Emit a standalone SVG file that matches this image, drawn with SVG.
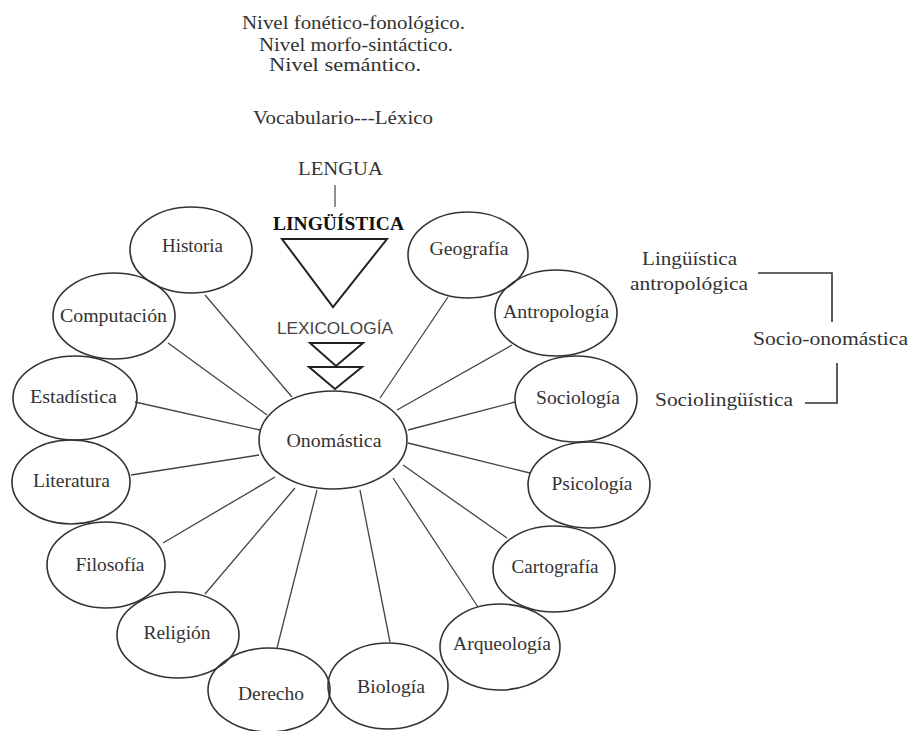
<svg xmlns="http://www.w3.org/2000/svg" width="912" height="731" viewBox="0 0 912 731">
<style>
text{font-family:"Liberation Serif","Times New Roman",serif;font-size:18px;fill:#333;text-anchor:middle}
.node ellipse{fill:none;stroke:#333;stroke-width:1.6}
#connectors line{stroke:#444;stroke-width:1.3}
.br{fill:none;stroke:#333;stroke-width:1.6}
.tri{fill:none;stroke:#222;stroke-width:2}
.sans{font-family:"Liberation Sans",Arial,sans-serif;font-size:16px;fill:#444}
.bold{font-weight:bold;fill:#111;font-size:19px}
</style>
<rect width="912" height="731" fill="#fff"/>
<g id="header">
<text x="353.5" y="29" textLength="223" lengthAdjust="spacingAndGlyphs">Nivel fonético-fonológico.</text>
<text x="356" y="51" textLength="194" lengthAdjust="spacingAndGlyphs">Nivel morfo-sintáctico.</text>
<text x="345" y="71" textLength="152" lengthAdjust="spacingAndGlyphs">Nivel semántico.</text>
<text x="343" y="124" textLength="180" lengthAdjust="spacingAndGlyphs">Vocabulario---Léxico</text>
<text x="340.5" y="175" font-size="16" textLength="85" lengthAdjust="spacingAndGlyphs">LENGUA</text>
<line x1="335" y1="185" x2="335" y2="207" stroke="#555" stroke-width="1.3"/>
<text class="bold" x="338.5" y="230" textLength="131" lengthAdjust="spacingAndGlyphs">LINGÜÍSTICA</text>
<polygon class="tri" points="282,239 387,239 333,307"/>
<text class="sans" x="335" y="334" textLength="116" lengthAdjust="spacingAndGlyphs">LEXICOLOGÍA</text>
<polygon class="tri" points="310,343 363,343 336,366"/>
<polygon class="tri" points="309,367 362,367 335,389"/>
</g>
<g id="side">
<text x="689.5" y="265" textLength="95" lengthAdjust="spacingAndGlyphs">Lingüística</text>
<text x="689" y="290" textLength="118" lengthAdjust="spacingAndGlyphs">antropológica</text>
<polyline class="br" points="758,273 832,273 832,322"/>
<text x="830.5" y="345" textLength="155" lengthAdjust="spacingAndGlyphs">Socio-onomástica</text>
<polyline class="br" points="837,363 837,403 805,403"/>
<text x="724" y="406" textLength="138" lengthAdjust="spacingAndGlyphs">Sociolingüística</text>
</g>
<g id="connectors">
<line x1="205" y1="295" x2="292" y2="397"/>
<line x1="168" y1="343" x2="267" y2="415"/>
<line x1="135" y1="402" x2="260" y2="430"/>
<line x1="131" y1="475" x2="259" y2="455"/>
<line x1="163" y1="543" x2="275" y2="477"/>
<line x1="205" y1="594" x2="295" y2="488"/>
<line x1="277" y1="648" x2="317" y2="490"/>
<line x1="390" y1="642" x2="360" y2="490"/>
<line x1="478" y1="607" x2="393" y2="478"/>
<line x1="507" y1="538" x2="403" y2="465"/>
<line x1="530" y1="473" x2="408" y2="443"/>
<line x1="515" y1="402" x2="408" y2="430"/>
<line x1="512" y1="345" x2="397" y2="410"/>
<line x1="448" y1="297" x2="380" y2="398"/>
</g>
<g id="onomastica" class="node"><ellipse cx="333" cy="440" rx="74" ry="49" stroke-width="2.2"/><text x="334" y="447" textLength="95" lengthAdjust="spacingAndGlyphs">Onomástica</text></g>
<g id="historia" class="node"><ellipse cx="191" cy="250" rx="61" ry="43"/><text x="192.5" y="252" textLength="61" lengthAdjust="spacingAndGlyphs">Historia</text></g>
<g id="computacion" class="node"><ellipse cx="114" cy="316" rx="61" ry="43"/><text x="113.5" y="322" textLength="107" lengthAdjust="spacingAndGlyphs">Computación</text></g>
<g id="estadistica" class="node"><ellipse cx="75" cy="398" rx="62" ry="42"/><text x="73.5" y="403" textLength="87" lengthAdjust="spacingAndGlyphs">Estadística</text></g>
<g id="literatura" class="node"><ellipse cx="71" cy="482" rx="59" ry="42"/><text x="71.5" y="487" textLength="77" lengthAdjust="spacingAndGlyphs">Literatura</text></g>
<g id="filosofia" class="node"><ellipse cx="106" cy="565" rx="59" ry="43"/><text x="110" y="571" textLength="69" lengthAdjust="spacingAndGlyphs">Filosofía</text></g>
<g id="religion" class="node"><ellipse cx="178" cy="635" rx="61" ry="43"/><text x="177" y="639" textLength="67" lengthAdjust="spacingAndGlyphs">Religión</text></g>
<g id="derecho" class="node"><ellipse cx="269" cy="690" rx="61" ry="42"/><text x="271" y="700" textLength="66" lengthAdjust="spacingAndGlyphs">Derecho</text></g>
<g id="biologia" class="node"><ellipse cx="388" cy="686" rx="60" ry="43"/><text x="391" y="693" textLength="68" lengthAdjust="spacingAndGlyphs">Biología</text></g>
<g id="arqueologia" class="node"><ellipse cx="500" cy="647" rx="60" ry="43"/><text x="502" y="650" textLength="98" lengthAdjust="spacingAndGlyphs">Arqueología</text></g>
<g id="cartografia" class="node"><ellipse cx="554" cy="569" rx="61" ry="43"/><text x="555" y="573" textLength="87" lengthAdjust="spacingAndGlyphs">Cartografía</text></g>
<g id="psicologia" class="node"><ellipse cx="589" cy="485" rx="61" ry="43"/><text x="592" y="490" textLength="81" lengthAdjust="spacingAndGlyphs">Psicología</text></g>
<g id="sociologia" class="node"><ellipse cx="576" cy="399" rx="61" ry="43"/><text x="578" y="404" textLength="84" lengthAdjust="spacingAndGlyphs">Sociología</text></g>
<g id="antropologia" class="node"><ellipse cx="556" cy="313" rx="61" ry="43"/><text x="556" y="318" textLength="106" lengthAdjust="spacingAndGlyphs">Antropología</text></g>
<g id="geografia" class="node"><ellipse cx="468" cy="255" rx="60" ry="43"/><text x="469" y="255" textLength="79" lengthAdjust="spacingAndGlyphs">Geografía</text></g>
</svg>
